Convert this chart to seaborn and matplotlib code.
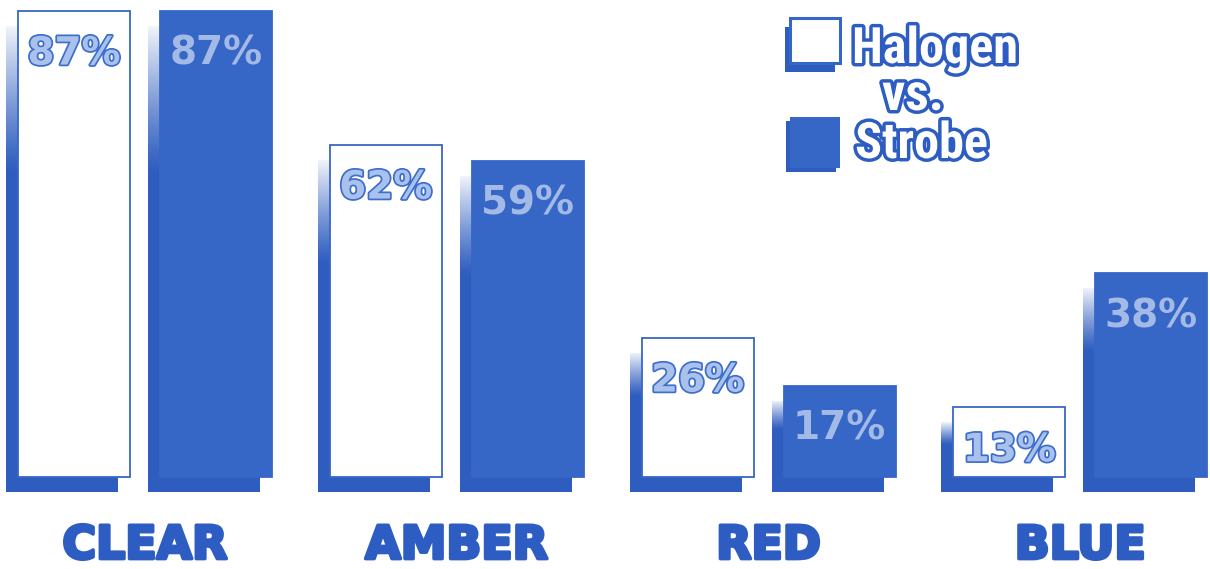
import numpy as np
import pandas as pd
import matplotlib
matplotlib.use('Agg')
import matplotlib.pyplot as plt
import matplotlib.patheffects as pe
from matplotlib.patches import Rectangle
from matplotlib import font_manager as fm
import seaborn as sns

# ---- data ----
categories = ['CLEAR', 'AMBER', 'RED', 'BLUE']
series = ['Halogen', 'Strobe']
halogen = [87, 62, 26, 13]
strobe = [87, 59, 17, 38]
legend_mid = 'vs.'

# ---- style ----
BLUE = '#3767C6'
SHADOW = '#2E5DBF'
TEXT_BLUE = '#2D5DC2'
W, H = 1210, 569

sns.set_theme(style='white')
plt.rcParams['font.family'] = ['DejaVu Sans']

entries = fm.fontManager.ttflist
names = {f.name for f in entries}
cond_name = None
for cand in ['Liberation Sans Narrow', 'Roboto Condensed', 'Open Sans Condensed',
             'Noto Sans Condensed', 'DejaVu Sans Condensed']:
    if cand in names:
        cond_name = cand
        break
if cond_name is None:
    for f in entries:
        if str(f.stretch) in ('condensed', 'semi-condensed', 'extra-condensed') or \
                (isinstance(f.stretch, int) and f.stretch < 500):
            cond_name = f.name
            break
leg_family = [cond_name, 'DejaVu Sans'] if cond_name else ['DejaVu Sans']

df = pd.DataFrame({
    'color': categories * 2,
    'lamp': [series[0]] * len(categories) + [series[1]] * len(categories),
    'value': halogen + strobe,
})

fig = plt.figure(figsize=(W / 100, H / 100), dpi=100)
fig.patch.set_facecolor('white')
ax = fig.add_axes([0, 0, 1, 1])
sns.barplot(data=df, x='color', y='value', hue='lamp', order=categories,
            hue_order=series, palette={'Halogen': 'white', 'Strobe': BLUE},
            saturation=1, width=0.911, gap=0.211, edgecolor=BLUE, linewidth=1.3,
            errorbar=None, legend=False, ax=ax)

px_per_x = 311.8
px_per_y = 5.36
x_left = -145 / px_per_x
y_bottom = -92 / px_per_y

dx = 12 / px_per_x
dy = 15 / px_per_y

bars = sorted([p for p in ax.patches], key=lambda p: p.get_x())
for p in bars:
    p.set_zorder(3)
    x, w, h = p.get_x(), p.get_width(), p.get_height()
    ax.bar(x - dx, h, width=w, bottom=-dy, align='edge', color=SHADOW,
           linewidth=0, zorder=1)
    g = 0.32 * h
    N = 64
    img = np.ones((N, 1, 4))
    img[:, 0, 3] = np.linspace(0.95, 0.0, N) ** 1.2
    ax.imshow(img, extent=(x - dx, x - dx + w, h - dy - g, h - dy),
              origin='upper', aspect='auto', zorder=2, interpolation='bilinear')

ax.set_xlim(x_left, x_left + W / px_per_x)
ax.set_ylim(y_bottom, y_bottom + H / px_per_y)
ax.axis('off')

# value labels
vals = []
for h_, s_ in zip(halogen, strobe):
    vals += [(h_, 'Halogen'), (s_, 'Strobe')]
for p, (v, lamp) in zip(bars, vals):
    cx = p.get_x() + p.get_width() / 2
    cy = p.get_height() - 8.0
    if lamp == 'Halogen':
        ax.text(cx, cy, f'{v}%', ha='center', va='center', fontsize=28,
                fontweight='bold', color='#A9C2EC', zorder=5,
                path_effects=[pe.Stroke(linewidth=2.5, foreground='#3E6DCC'),
                              pe.Normal()])
    else:
        ax.text(cx, cy, f'{v}%', ha='center', va='center', fontsize=28,
                fontweight='bold', color='#BFD0F0', alpha=0.8, zorder=5)

# category labels
for i, cat in enumerate(categories):
    ax.text(i, -12.9, cat, ha='center', va='center', fontsize=33,
            fontweight='bold', color=TEXT_BLUE,
            path_effects=[pe.withStroke(linewidth=2.5, foreground=TEXT_BLUE)])

# legend
def fx(x):
    return x / W

def fy(y):
    return (H - y) / H

fig.patches.append(Rectangle((fx(785), fy(72)), 50 / W, 45 / H,
                             transform=fig.transFigure, facecolor=SHADOW,
                             edgecolor='none', zorder=5))
fig.patches.append(Rectangle((fx(790), fy(63)), 50 / W, 45 / H,
                             transform=fig.transFigure, facecolor='white',
                             edgecolor=BLUE, linewidth=2.2, zorder=6))
fig.patches.append(Rectangle((fx(786), fy(172)), 50 / W, 51 / H,
                             transform=fig.transFigure, facecolor=SHADOW,
                             edgecolor='none', zorder=5))
fig.patches.append(Rectangle((fx(790), fy(168)), 50 / W, 51 / H,
                             transform=fig.transFigure, facecolor=BLUE,
                             edgecolor='none', zorder=6))

leg_pe = [pe.Stroke(linewidth=5, foreground=TEXT_BLUE), pe.Normal()]
renderer = fig.canvas.get_renderer()

def fit_text(x, y, s, target_w, ha, size0):
    t = fig.text(fx(x), fy(y), s, ha=ha, va='baseline', fontsize=size0,
                 fontweight='bold', family=leg_family, fontstretch='condensed',
                 color='white', path_effects=leg_pe, zorder=7)
    bw = t.get_window_extent(renderer=renderer).width
    if bw > 0:
        t.set_fontsize(size0 * target_w / bw)
    return t

fit_text(852, 63, series[0], 166, 'left', 36)
fit_text(913, 110, legend_mid, 62, 'center', 30)
fit_text(855, 158, series[1], 133, 'left', 36)

fig.savefig('out.png', dpi=100, facecolor='white')
